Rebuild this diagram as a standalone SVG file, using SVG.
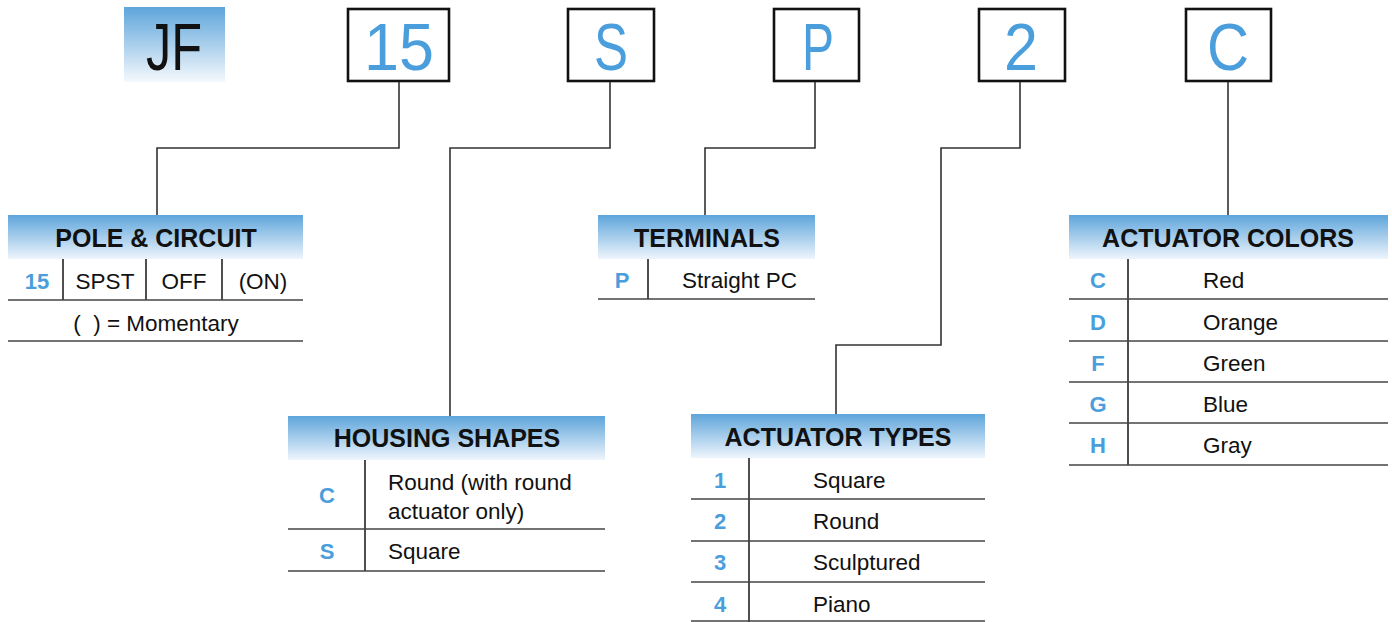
<svg xmlns="http://www.w3.org/2000/svg" width="1392" height="622" viewBox="0 0 1392 622">
<defs>
<linearGradient id="hg" x1="0" y1="0" x2="0" y2="1">
<stop offset="0" stop-color="#5ea5db"/>
<stop offset="1" stop-color="#eef5fc"/>
</linearGradient>
<linearGradient id="jg" x1="0" y1="0" x2="0" y2="1">
<stop offset="0" stop-color="#5ea5db"/>
<stop offset="1" stop-color="#f4f9fd"/>
</linearGradient>
</defs>
<style>
.box{fill:#fff;stroke:#111;stroke-width:2.6}
.big{font-family:"Liberation Sans",Arial,sans-serif;font-size:66px;fill:#4a9edc;text-anchor:middle}
.hdr{font-family:"Liberation Sans",Arial,sans-serif;font-size:25px;font-weight:bold;fill:#111;text-anchor:middle}
.txt{font-family:"Liberation Sans",Arial,sans-serif;font-size:22.5px;fill:#111}
.mid{text-anchor:middle}
.code{font-family:"Liberation Sans",Arial,sans-serif;font-size:22px;font-weight:bold;fill:#4a9edc;text-anchor:middle}
.rl{stroke:#444;stroke-width:1.6;fill:none}
.vl{stroke:#222;stroke-width:1.6;fill:none}
.conn{stroke:#333;stroke-width:1.6;fill:none}
</style>

<g id="code-jf">
<rect x="124" y="7" width="101" height="75" fill="url(#jg)"/>
<text x="174" y="70" class="big" style="fill:#111" textLength="56" lengthAdjust="spacingAndGlyphs">JF</text>
</g>
<g id="code-15">
<rect class="box" x="348" y="9" width="101" height="72"/>
<text x="399" y="70" class="big" textLength="70" lengthAdjust="spacingAndGlyphs">15</text>
</g>
<g id="code-s">
<rect class="box" x="568" y="9" width="86" height="72"/>
<text x="611" y="70" class="big" textLength="34" lengthAdjust="spacingAndGlyphs">S</text>
</g>
<g id="code-p">
<rect class="box" x="774" y="9" width="85" height="72"/>
<text x="818" y="70" class="big" textLength="32" lengthAdjust="spacingAndGlyphs">P</text>
</g>
<g id="code-2">
<rect class="box" x="979" y="9" width="86" height="72"/>
<text x="1021" y="70" class="big" textLength="34" lengthAdjust="spacingAndGlyphs">2</text>
</g>
<g id="code-c">
<rect class="box" x="1186" y="9" width="85" height="72"/>
<text x="1228" y="70" class="big" textLength="42" lengthAdjust="spacingAndGlyphs">C</text>
</g>

<g id="connectors">
<polyline class="conn" points="399,82 399,148 157,148 157,215"/>
<polyline class="conn" points="610,82 610,148 450,148 450,416"/>
<polyline class="conn" points="815,82 815,148 705,148 705,215"/>
<polyline class="conn" points="1020,82 1020,148 941,148 941,345 836,345 836,415"/>
<polyline class="conn" points="1228,82 1228,215"/>
</g>

<g id="pole-circuit">
<rect x="8" y="215" width="295" height="44" fill="url(#hg)"/>
<text x="156" y="247" class="hdr">POLE &amp; CIRCUIT</text>
<line class="vl" x1="63" y1="259" x2="63" y2="300"/>
<line class="vl" x1="146" y1="259" x2="146" y2="300"/>
<line class="vl" x1="222" y1="259" x2="222" y2="300"/>
<line class="rl" x1="8" y1="300" x2="303" y2="300"/>
<line class="rl" x1="8" y1="341" x2="303" y2="341"/>
<text x="37" y="289" class="code">15</text>
<text x="105" y="289" class="txt mid">SPST</text>
<text x="184" y="289" class="txt mid">OFF</text>
<text x="263" y="289" class="txt mid">(ON)</text>
<text x="156" y="331" class="txt mid" xml:space="preserve">(  ) = Momentary</text>
</g>

<g id="housing-shapes">
<rect x="288" y="416" width="317" height="44" fill="url(#hg)"/>
<text x="447" y="447" class="hdr">HOUSING SHAPES</text>
<line class="vl" x1="365" y1="460" x2="365" y2="571"/>
<line class="rl" x1="288" y1="529" x2="605" y2="529"/>
<line class="rl" x1="288" y1="571" x2="605" y2="571"/>
<text x="327" y="503" class="code">C</text>
<text x="388" y="490" class="txt">Round (with round</text>
<text x="388" y="519" class="txt">actuator only)</text>
<text x="327" y="559" class="code">S</text>
<text x="388" y="559" class="txt">Square</text>
</g>

<g id="terminals">
<rect x="598" y="215" width="217" height="44" fill="url(#hg)"/>
<text x="707" y="247" class="hdr">TERMINALS</text>
<line class="vl" x1="648" y1="259" x2="648" y2="299"/>
<line class="rl" x1="598" y1="299" x2="815" y2="299"/>
<text x="622" y="288" class="code">P</text>
<text x="682" y="288" class="txt">Straight PC</text>
</g>

<g id="actuator-types">
<rect x="691" y="414" width="294" height="44" fill="url(#hg)"/>
<text x="838" y="446" class="hdr">ACTUATOR TYPES</text>
<line class="vl" x1="749" y1="458" x2="749" y2="622"/>
<line class="rl" x1="691" y1="499" x2="985" y2="499"/>
<line class="rl" x1="691" y1="541" x2="985" y2="541"/>
<line class="rl" x1="691" y1="582" x2="985" y2="582"/>
<line class="rl" x1="691" y1="621" x2="985" y2="621"/>
<text x="720" y="488" class="code">1</text>
<text x="813" y="488" class="txt">Square</text>
<text x="720" y="529" class="code">2</text>
<text x="813" y="529" class="txt">Round</text>
<text x="720" y="570" class="code">3</text>
<text x="813" y="570" class="txt">Sculptured</text>
<text x="720" y="612" class="code">4</text>
<text x="813" y="612" class="txt">Piano</text>
</g>

<g id="actuator-colors">
<rect x="1069" y="215" width="319" height="44" fill="url(#hg)"/>
<text x="1228" y="247" class="hdr">ACTUATOR COLORS</text>
<line class="vl" x1="1128" y1="259" x2="1128" y2="465"/>
<line class="rl" x1="1069" y1="299" x2="1388" y2="299"/>
<line class="rl" x1="1069" y1="341" x2="1388" y2="341"/>
<line class="rl" x1="1069" y1="382" x2="1388" y2="382"/>
<line class="rl" x1="1069" y1="423" x2="1388" y2="423"/>
<line class="rl" x1="1069" y1="465" x2="1388" y2="465"/>
<text x="1098" y="288" class="code">C</text>
<text x="1203" y="288" class="txt">Red</text>
<text x="1098" y="330" class="code">D</text>
<text x="1203" y="330" class="txt">Orange</text>
<text x="1098" y="371" class="code">F</text>
<text x="1203" y="371" class="txt">Green</text>
<text x="1098" y="412" class="code">G</text>
<text x="1203" y="412" class="txt">Blue</text>
<text x="1098" y="453" class="code">H</text>
<text x="1203" y="453" class="txt">Gray</text>
</g>
</svg>
